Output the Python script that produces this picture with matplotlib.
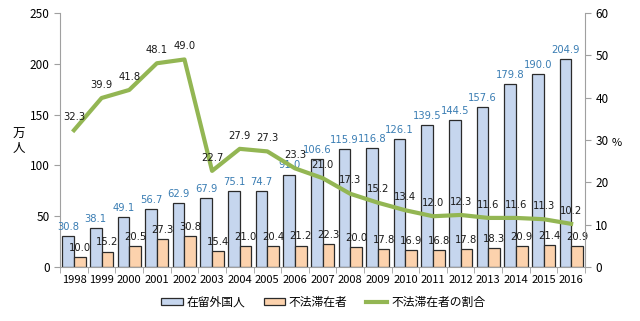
import numpy as np
import matplotlib
matplotlib.use('Agg')
import matplotlib.pyplot as plt
from matplotlib.lines import Line2D
from matplotlib.patches import Patch

plt.rcParams['font.family'] = ['Noto Sans CJK JP', 'DejaVu Sans']

years = ['1998', '1999', '2000', '2001', '2002', '2003', '2004', '2005', '2006', '2007',
         '2008', '2009', '2010', '2011', '2012', '2013', '2014', '2015', '2016']
foreign = [30.8, 38.1, 49.1, 56.7, 62.9, 67.9, 75.1, 74.7, 91.0, 106.6,
           115.9, 116.8, 126.1, 139.5, 144.5, 157.6, 179.8, 190.0, 204.9]
illegal = [10.0, 15.2, 20.5, 27.3, 30.8, 15.4, 21.0, 20.4, 21.2, 22.3,
           20.0, 17.8, 16.9, 16.8, 17.8, 18.3, 20.9, 21.4, 20.9]
ratio = [32.3, 39.9, 41.8, 48.1, 49.0, 22.7, 27.9, 27.3, 23.3, 21.0,
         17.3, 15.2, 13.4, 12.0, 12.3, 11.6, 11.6, 11.3, 10.2]
legend_labels = ['在留外国人', '不法滞在者', '不法滞在者の割合']

blue_fill = '#c6d6ee'
orange_fill = '#fcd2ad'
green = '#93b653'
label_blue = '#3a7db3'
grey = '#a0a0a0'

fig = plt.figure(figsize=(6.4, 3.21), dpi=100)
ax = fig.add_axes([0.094, 0.168, 0.820, 0.792])
ax2 = ax.twinx()

x = np.arange(len(years))
w = 0.42
ax.bar(x - w / 2, foreign, w, color=blue_fill, edgecolor='#2b2b2b', linewidth=0.9, zorder=2)
ax.bar(x + w / 2, illegal, w, color=orange_fill, edgecolor='#2b2b2b', linewidth=0.9, zorder=2)

for i in range(len(years)):
    ax.annotate('%.1f' % foreign[i], (x[i] - w / 2, foreign[i]), xytext=(0, 3),
                textcoords='offset points', ha='center', va='bottom', fontsize=7.2,
                color=label_blue, family='DejaVu Sans', zorder=5)
    ax.annotate('%.1f' % illegal[i], (x[i] + w / 2, illegal[i]), xytext=(0, 3),
                textcoords='offset points', ha='center', va='bottom', fontsize=7.2,
                color='#1a1a1a', family='DejaVu Sans', zorder=5)

ax2.plot(x, ratio, color=green, linewidth=3, zorder=3)
for i in range(len(years)):
    ax2.annotate('%.1f' % ratio[i], (x[i], ratio[i]), xytext=(0, 6),
                 textcoords='offset points', ha='center', va='bottom', fontsize=7.2,
                 color='#1a1a1a', family='DejaVu Sans')

ax.set_xlim(-0.5, len(years) - 0.5)
ax.set_ylim(0, 250)
ax.set_yticks([0, 50, 100, 150, 200, 250])
ax2.set_ylim(0, 60)
ax2.set_yticks([0, 10, 20, 30, 40, 50, 60])
ax.set_xticks(x)
ax.set_xticklabels(years)
ax.set_xticks(np.arange(-0.5, len(years)), minor=True)
ax.tick_params(axis='x', which='major', length=0, labelsize=8, pad=6)
ax.tick_params(axis='x', which='minor', length=4, color=grey)
ax.tick_params(axis='y', labelsize=8.5, length=4, color=grey)
ax2.tick_params(axis='y', labelsize=8.5, length=4, color=grey)

for a in (ax, ax2):
    a.spines['top'].set_visible(False)
    for s in ('left', 'right', 'bottom'):
        a.spines[s].set_color(grey)
ax.spines['right'].set_visible(False)
ax2.spines['left'].set_visible(False)
ax2.spines['bottom'].set_visible(False)

fig.text(0.03, 0.56, '万\n人', fontsize=9, ha='center', va='center', linespacing=1.1)
fig.text(0.963, 0.555, '%', fontsize=8, ha='center', va='center')

handles = [Patch(facecolor=blue_fill, edgecolor='#2b2b2b', linewidth=0.9),
           Patch(facecolor=orange_fill, edgecolor='#2b2b2b', linewidth=0.9),
           Line2D([0], [0], color=green, linewidth=3)]
fig.legend(handles, legend_labels, loc='center', bbox_to_anchor=(0.505, 0.058), ncol=3,
           frameon=False, fontsize=8.5, handlelength=1.8, handleheight=0.55,
           columnspacing=1.6, handletextpad=0.3)

fig.savefig('out.png', dpi=100)
